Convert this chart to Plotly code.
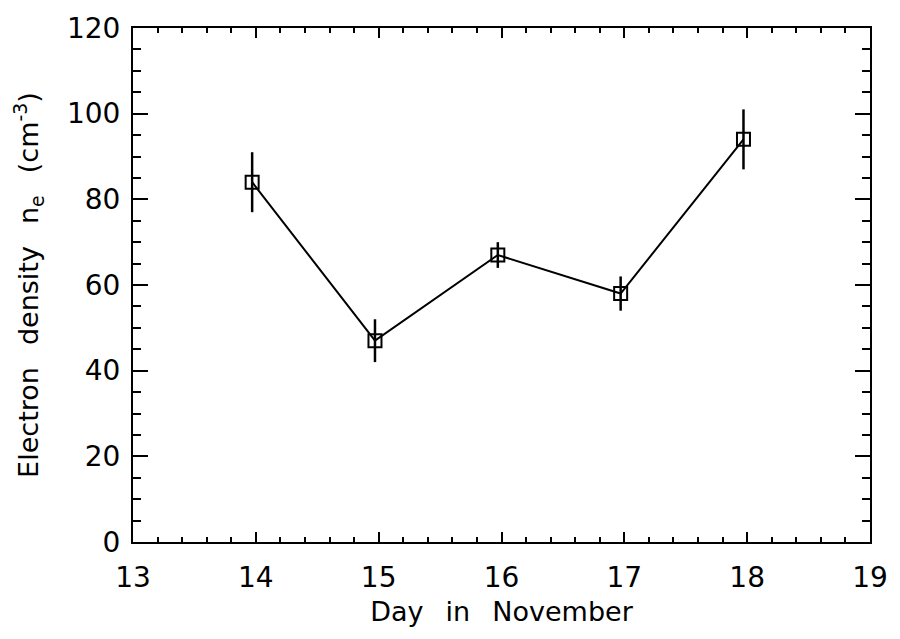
import plotly.graph_objects as go

days = [13.97, 14.97, 15.97, 16.97, 17.97]
density = [84, 47, 67, 58, 94]
density_err = [7, 5, 3, 4, 7]

x_ticks = [13, 14, 15, 16, 17, 18, 19]
y_ticks = [0, 20, 40, 60, 80, 100, 120]

FONT = "DejaVu Sans"
SP = "\u2002 "  # wide word spacing like the original vector font

fig = go.Figure()
fig.add_trace(go.Scatter(
    x=days, y=density,
    mode="lines+markers",
    line=dict(color="black", width=2),
    marker=dict(symbol="square-open", size=13, color="black", line=dict(width=2)),
    error_y=dict(type="data", array=density_err, visible=True, color="black",
                 thickness=2.5, width=0),
    showlegend=False,
))

fig.update_layout(
    width=900, height=639,
    margin=dict(l=133, r=22, t=14, b=97),
    paper_bgcolor="white", plot_bgcolor="white",
    font=dict(family=FONT, color="black"),
)

fig.update_xaxes(
    range=[13, 19], tickvals=x_ticks, ticktext=[str(v) for v in x_ticks],
    showgrid=False, zeroline=False,
    showline=True, linecolor="black", linewidth=2, mirror="ticks",
    ticks="inside", ticklen=10, tickwidth=2, tickcolor="black",
    minor=dict(dtick=0.2, ticks="inside", ticklen=5, tickwidth=2, tickcolor="black", showgrid=False),
    tickfont=dict(size=28, family=FONT),
    ticklabelstandoff=9, ticklabeloverflow="allow",
    title=dict(text=SP.join(["Day", "in", "November"]), font=dict(size=27, family=FONT), standoff=10),
)
fig.update_yaxes(
    range=[0, 120], tickvals=y_ticks, ticktext=[str(v) for v in y_ticks],
    showgrid=False, zeroline=False,
    showline=True, linecolor="black", linewidth=2, mirror="ticks",
    ticks="inside", ticklen=15, tickwidth=2, tickcolor="black",
    minor=dict(dtick=5, ticks="inside", ticklen=8, tickwidth=2, tickcolor="black", showgrid=False),
    tickfont=dict(size=28, family=FONT),
    ticklabelstandoff=5, ticklabeloverflow="allow",
    title=dict(text=SP.join(["Electron", "density", "n<sub>e</sub>", "(cm<sup>-3</sup>)"]),
               font=dict(size=27, family=FONT), standoff=20),
)

fig.write_html(
    "out.html",
    config={"displayModeBar": False},
    post_script="document.body.style.margin='0';document.documentElement.style.overflow='hidden';",
)
